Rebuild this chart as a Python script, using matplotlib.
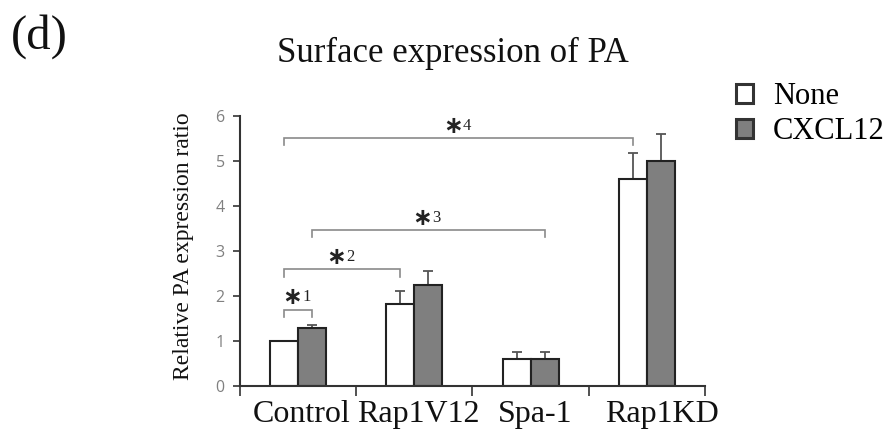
import numpy as np
import matplotlib
matplotlib.use("Agg")
import matplotlib.pyplot as plt
from matplotlib.transforms import offset_copy, ScaledTranslation

categories = ["Control", "Rap1V12", "Spa-1", "Rap1KD"]
series_names = ["None", "CXCL12"]
none_vals = [1.0, 1.82, 0.60, 4.60]
none_err = [0.0, 0.28, 0.15, 0.57]
cxcl_vals = [1.28, 2.25, 0.60, 5.00]
cxcl_err = [0.07, 0.31, 0.15, 0.60]
yticks = [0, 1, 2, 3, 4, 5, 6]
# brackets: (category a, series a, category b, series b, height, label number)
brackets = [
    (0, 0, 0, 1, 1.69, "1"),
    (0, 0, 1, 0, 2.59, "2"),
    (0, 1, 2, 1, 3.46, "3"),
    (0, 0, 3, 0, 5.50, "4"),
]

serif = ["Liberation Serif", "DejaVu Serif"]
DPI = 100

fig = plt.figure(figsize=(8.95, 4.4), dpi=DPI)
ax = fig.add_axes([240/895, 1-386/440, 465/895, (386-115.7)/440])

x = np.arange(len(categories))
off = 0.12
w = 0.24
ax.bar(x - off, none_vals, w, color="white", edgecolor="#222222", linewidth=1.5,
       label=series_names[0], zorder=2)
ax.bar(x + off, cxcl_vals, w, color="#7f7f7f", edgecolor="#222222", linewidth=1.5,
       label=series_names[1], zorder=2)
ax.errorbar(x - off, none_vals, yerr=[np.zeros(4), none_err], fmt="none",
            ecolor="#555555", elinewidth=1.3, capsize=3.6, capthick=1.3, zorder=1)
ax.errorbar(x + off, cxcl_vals, yerr=[np.zeros(4), cxcl_err], fmt="none",
            ecolor="#555555", elinewidth=1.3, capsize=3.6, capthick=1.3, zorder=1)

drop = 0.16
t_star = offset_copy(ax.transData, fig=fig, x=4, y=0, units="dots")
t_num = offset_copy(ax.transData, fig=fig, x=4.2, y=0, units="dots")
for ca, sa, cb, sb, h, lab in brackets:
    xa = ca + (off if sa else -off)
    xb = cb + (off if sb else -off)
    ax.plot([xa, xa, xb, xb], [h - drop, h, h, h - drop], color="#8a8a8a", lw=1.2,
            solid_joinstyle="miter", zorder=3)
    xm = (xa + xb) / 2
    ty = h + 0.28
    ax.text(xm, ty, "\u2217", transform=t_star, ha="right", va="center",
            fontsize=17, family="DejaVu Sans", fontweight="bold", color="#222222")
    ax.text(xm, ty, lab, transform=t_num, ha="left", va="center",
            fontsize=12, family=serif, color="#222222")

ax.set_xlim(-0.5, 3.5)
ax.set_ylim(0, 6)
ax.set_yticks(yticks)
ax.set_yticklabels([str(v) for v in yticks], color="#808080", fontsize=11.5,
                   family="Open Sans")
ax.tick_params(axis="y", direction="out", length=5, width=1.2, color="#333333", pad=6)
ax.set_xticks(np.arange(-0.5, 4.0, 1.0))
ax.set_xticklabels([])
ax.tick_params(axis="x", which="major", direction="out", length=7, width=1.2,
               color="#333333")
ax.set_xticks(x, minor=True)
ax.set_xticklabels(categories, minor=True, fontsize=23, family=serif, color="#111111")
ax.tick_params(axis="x", which="minor", length=0, pad=10)
label_shift_px = [3.5, 3.5, 4.5, 15.5]
for lbl, dx in zip(ax.get_xticklabels(minor=True), label_shift_px):
    lbl.set_transform(lbl.get_transform() + ScaledTranslation(dx/DPI, 0, fig.dpi_scale_trans))

for s in ["top", "right"]:
    ax.spines[s].set_visible(False)
for s in ["left", "bottom"]:
    ax.spines[s].set_color("#333333")
    ax.spines[s].set_linewidth(1.5)

ax.set_ylabel("Relative PA expression ratio", fontsize=17, family=serif, color="#111111")
ax.yaxis.set_label_coords((183.5-240)/465, (386-246)/270.3)
ax.yaxis.label.set_va("center")

fig.text(452.5/895, 1-62/440, "Surface expression of PA", fontsize=25, family=serif,
         ha="center", va="baseline", color="#111111")
fig.text(11/895, 1-48.5/440, "(d)", fontsize=35, family=serif, ha="left", va="baseline",
         color="#111111")

leg = fig.legend(loc="upper left", bbox_to_anchor=(736/895, 1-82/440), frameon=False,
                 prop={"family": serif, "size": 22}, handlelength=0.56, handleheight=0.56,
                 handletextpad=0.65, labelspacing=0.2, borderpad=0, borderaxespad=0)
for p in leg.get_patches():
    p.set_linewidth(2.2)
    p.set_edgecolor("#333333")

fig.savefig("out.png", dpi=DPI)
